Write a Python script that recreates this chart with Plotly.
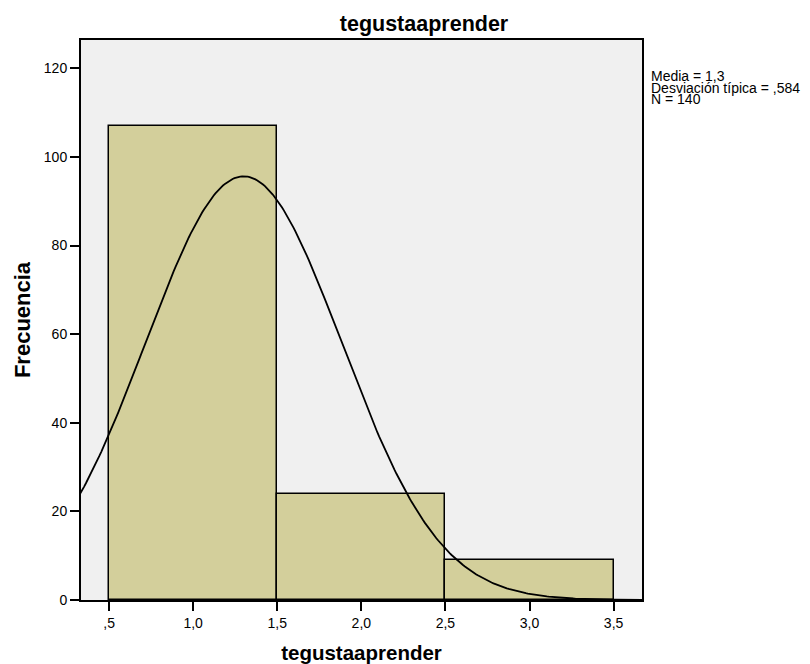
import numpy as np
import plotly.graph_objects as go

# --- datos del histograma ---
centros = [1.0, 2.0, 3.0]
frecuencias = [107, 24, 9]
tick_vals = [0.5, 1.0, 1.5, 2.0, 2.5, 3.0, 3.5]
tick_text = [",5", "1,0", "1,5", "2,0", "2,5", "3,0", "3,5"]
y_ticks = [0, 20, 40, 60, 80, 100, 120]

# estadísticos mostrados en la leyenda
MEDIA = 1.3
DESV = 0.584
N = 140
ANCHO_BIN = 1.0

X_RANGO = [0.333, 3.669]
Y_RANGO = [0, 126.4]

# curva normal ajustada (igual que SPSS)
xs = np.linspace(X_RANGO[0] - 0.05, X_RANGO[1], 300)
ys = N * ANCHO_BIN / (DESV * np.sqrt(2 * np.pi)) * np.exp(-0.5 * ((xs - MEDIA) / DESV) ** 2)

fig = go.Figure()
fig.add_trace(go.Bar(
    x=centros, y=frecuencias, width=ANCHO_BIN,
    marker=dict(color="#D3CF9B", line=dict(color="#000000", width=1.5)),
    showlegend=False, hoverinfo="x+y",
))
fig.add_trace(go.Scatter(
    x=xs, y=ys, mode="lines",
    line=dict(color="#000000", width=1.8),
    showlegend=False, hoverinfo="skip",
))

# la página añade 8 px de margen al body: la figura se reduce en lo mismo
ANCHO, ALTO = 802, 656
fuente = "Liberation Sans, Arial, sans-serif"
fig.update_layout(
    width=ANCHO, height=ALTO,
    margin=dict(l=73, r=168, t=32, b=64, autoexpand=False),
    paper_bgcolor="white",
    plot_bgcolor="#F0F0F0",
    font=dict(family=fuente, size=14, color="#000000"),
    bargap=0,
    title=dict(text="<b>tegustaaprender</b>", x=416 / ANCHO, xanchor="center",
               yref="container", y=1 - 15 / ALTO, yanchor="middle", font=dict(size=21.5)),
    xaxis=dict(
        range=X_RANGO, tickvals=tick_vals, ticktext=tick_text,
        ticks="outside", ticklen=9, tickwidth=2, tickcolor="#000000",
        showgrid=False, zeroline=False, automargin=False,
        showline=True, linecolor="#000000", linewidth=2, mirror=True,
        title=dict(text="<b>tegustaaprender</b>", font=dict(size=20.5), standoff=17),
        tickfont=dict(size=14),
    ),
    yaxis=dict(
        range=Y_RANGO, tickvals=y_ticks,
        ticks="outside", ticklen=9, tickwidth=2, tickcolor="#000000",
        showgrid=False, zeroline=False, automargin=False,
        showline=True, linecolor="#000000", linewidth=2, mirror=True,
        title=dict(text="<b>Frecuencia</b>", font=dict(size=22), standoff=7),
        tickfont=dict(size=14),
    ),
)

lineas = ["Media = 1,3", "Desviación típica = ,584", "N = 140"]
for i, txt in enumerate(lineas):
    fig.add_annotation(
        text=txt, xref="paper", yref="paper",
        x=1.0, xshift=7, xanchor="left",
        y=(560 - 36 - i * 11.5) / 560, yanchor="middle",
        showarrow=False, font=dict(size=14, family=fuente),
    )

fig.write_html("out.html")
